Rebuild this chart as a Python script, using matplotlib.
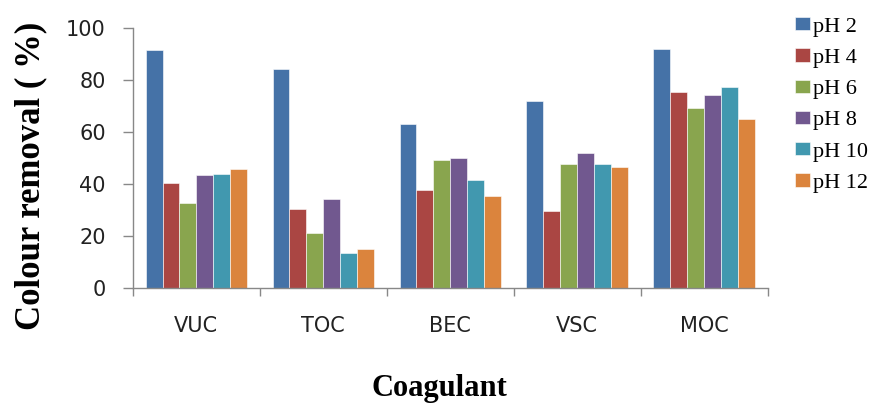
import numpy as np
import matplotlib
matplotlib.use("Agg")
import matplotlib.pyplot as plt

coagulants = ["VUC", "TOC", "BEC", "VSC", "MOC"]
ph_labels = ["pH 2", "pH 4", "pH 6", "pH 8", "pH 10", "pH 12"]

ph2 = [91.6, 84.2, 63.2, 71.9, 92.1]
ph4 = [40.3, 30.3, 37.7, 29.8, 75.6]
ph6 = [32.9, 21.1, 49.4, 47.6, 69.3]
ph8 = [43.4, 34.2, 50.2, 52.0, 74.2]
ph10 = [44.0, 13.6, 41.5, 47.6, 77.4]
ph12 = [45.7, 14.9, 35.3, 46.5, 65.1]

colors = ["#4572A7", "#AA4643", "#89A54E", "#71588F", "#4198AF", "#DB843D"]

fig = plt.figure(figsize=(8.86, 4.07), dpi=100)
ax = fig.add_axes([0.150, 0.2924, 0.7165, 0.6381])

x = np.arange(len(coagulants))
width = 0.8 / 6
series = [ph2, ph4, ph6, ph8, ph10, ph12]
for i, (vals, lab) in enumerate(zip(series, ph_labels)):
    ax.bar(x - 0.4 + width * (i + 0.5), vals, width, color=colors[i],
           edgecolor="white", linewidth=0.4, label=lab)

ax.set_xlim(-0.5, len(coagulants) - 0.5)
ax.set_ylim(0, 100)
ax.set_yticks(np.arange(0, 101, 20))

ax.set_xticks(x)
ax.set_xticklabels(coagulants)
ax.set_xticks(np.arange(-0.5, len(coagulants)), minor=True)
ax.tick_params(axis="x", which="major", length=0, pad=20)
ax.tick_params(axis="x", which="minor", length=6, color="#888888", width=1)
ax.tick_params(axis="y", length=7.5, color="#888888", width=1, pad=12)
for lbl in ax.get_xticklabels() + ax.get_yticklabels():
    lbl.set_fontsize(15)
    lbl.set_color("#222222")

for s in ["top", "right"]:
    ax.spines[s].set_visible(False)
for s in ["left", "bottom"]:
    ax.spines[s].set_color("#888888")
    ax.spines[s].set_linewidth(1)

ax.set_ylabel("Colour removal ( %)", family="Liberation Serif",
              fontweight="bold", fontsize=25)
ax.yaxis.set_label_coords(-0.135, 0.43)
ax.set_xlabel("Coagulant", family="Liberation Serif",
              fontweight="bold", fontsize=22)
ax.xaxis.set_label_coords(0.4836, -0.331)

fig.legend(loc="upper left", bbox_to_anchor=(0.897, 0.958), frameon=False,
           prop={"family": "Liberation Serif", "size": 16},
           handlelength=0.68, handleheight=0.54, handletextpad=0.15,
           labelspacing=0.53, borderaxespad=0, borderpad=0)

fig.savefig("out.png", dpi=100)
